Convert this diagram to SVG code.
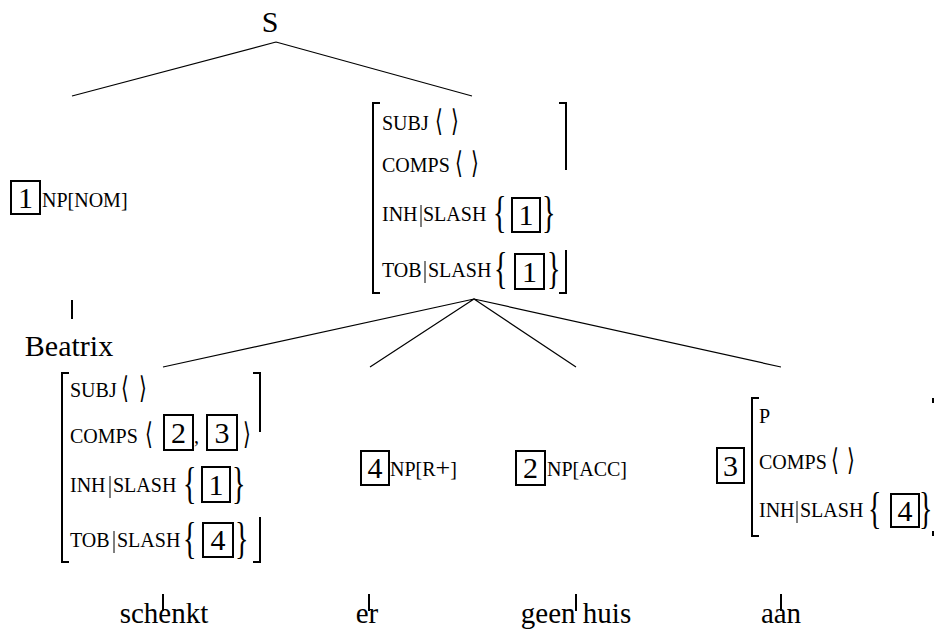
<svg xmlns="http://www.w3.org/2000/svg" width="935" height="631" viewBox="0 0 935 631" font-family="'Liberation Serif','Times New Roman',serif">
<style>
text{font-family:"Liberation Serif","Times New Roman",serif;fill:#000}
.w{font-size:29px;text-anchor:middle}
.s{font-size:30px;text-anchor:middle}
.f{font-size:20px}
.d{font-size:30px;text-anchor:middle}
.ab{font-family:"DejaVu Serif","DejaVu Sans",serif;font-size:20px}
.cb{font-size:28px}
.ln{stroke:#000;stroke-width:1.2;fill:none}
.tk{stroke:#000;stroke-width:2;fill:none}
.bx{fill:none;stroke:#000;stroke-width:2}
.br{fill:none;stroke:#000;stroke-width:2}
.bar{stroke:#000;stroke-width:1}
</style>
<rect width="935" height="631" fill="#fff"/>

<g id="connectors">
<path class="ln" d="M276,42 L72,96 M276,42 L472,96"/>
<path class="ln" d="M474,299 L163,367 M474,299 L370,367 M474,299 L576,367 M474,299 L781,367"/>
<path class="tk" d="M72,300 V319 M163,594 V611 M369,594 V611 M576,594 V611 M781,594 V611"/>
</g>

<g id="node-S">
<text class="s" x="270" y="32">S</text>
</g>

<g id="node-np-nom">
<rect class="bx" x="11" y="181" width="29" height="33"/>
<text class="d" x="25.5" y="208">1</text>
<text class="f" x="42" y="207">NP[NOM]</text>
</g>

<g id="node-beatrix">
<text class="s" x="69" y="356">Beatrix</text>
</g>

<g id="node-vp">
<path class="br" d="M380,103 H373 V293 H380"/>
<path class="br" d="M559,103 H566 V170 M566,250 V293 H559"/>
<text class="f" x="382" y="130">SUBJ</text>
<text class="ab" transform="translate(435,131) scale(1,1.5)">⟨</text><text class="ab" transform="translate(451,131) scale(1,1.5)">⟩</text>
<text class="f" x="382" y="172">COMPS</text>
<text class="ab" transform="translate(455,173) scale(1,1.5)">⟨</text><text class="ab" transform="translate(471,173) scale(1,1.5)">⟩</text>
<text class="f" x="382" y="221">INH</text>
<line class="bar" x1="421" y1="205" x2="421" y2="227"/>
<text class="f" x="423" y="221">SLASH</text>
<text class="cb" transform="translate(493,227) scale(1,1.55)">{</text>
<rect class="bx" x="512" y="198" width="28" height="34"/>
<text class="d" x="526" y="225">1</text>
<text class="cb" transform="translate(542,227) scale(1,1.55)">}</text>
<text class="f" x="382" y="277">TOB</text>
<line class="bar" x1="425" y1="261" x2="425" y2="283"/>
<text class="f" x="428" y="277">SLASH</text>
<text class="cb" transform="translate(494,283) scale(1,1.55)">{</text>
<rect class="bx" x="515" y="254" width="29" height="35"/>
<text class="d" x="529.5" y="282">1</text>
<text class="cb" transform="translate(547,283) scale(1,1.55)">}</text>
</g>

<g id="node-schenkt-avm">
<path class="br" d="M69,373 H62 V562 H69"/>
<path class="br" d="M253,373 H260 V432 M260,517 V562 H253"/>
<text class="f" x="70" y="397">SUBJ</text>
<text class="ab" transform="translate(121,398) scale(1,1.5)">⟨</text><text class="ab" transform="translate(139,398) scale(1,1.5)">⟩</text>
<text class="f" x="70" y="443">COMPS</text>
<text class="ab" transform="translate(145,444) scale(1,1.5)">⟨</text>
<rect class="bx" x="164" y="415" width="29" height="35"/>
<text class="d" x="178.5" y="443">2</text>
<text class="f" x="194" y="443">,</text>
<rect class="bx" x="207" y="415" width="30" height="35"/>
<text class="d" x="222" y="443">3</text>
<text class="ab" transform="translate(243,444) scale(1,1.5)">⟩</text>
<text class="f" x="70" y="492">INH</text>
<line class="bar" x1="110" y1="476" x2="110" y2="498"/>
<text class="f" x="113" y="492">SLASH</text>
<text class="cb" transform="translate(183,498) scale(1,1.55)">{</text>
<rect class="bx" x="202" y="467" width="28" height="35"/>
<text class="d" x="216" y="495">1</text>
<text class="cb" transform="translate(232,498) scale(1,1.55)">}</text>
<text class="f" x="70" y="547">TOB</text>
<line class="bar" x1="114" y1="531" x2="114" y2="553"/>
<text class="f" x="117" y="547">SLASH</text>
<text class="cb" transform="translate(183,553) scale(1,1.55)">{</text>
<rect class="bx" x="203" y="523" width="30" height="34"/>
<text class="d" x="218" y="550">4</text>
<text class="cb" transform="translate(235,553) scale(1,1.55)">}</text>
</g>

<g id="node-schenkt">
<text class="w" x="164" y="623">schenkt</text>
</g>

<g id="node-np-r">
<rect class="bx" x="361" y="451" width="28" height="34"/>
<text class="d" x="375" y="478">4</text>
<text class="f" x="390" y="476">NP[R<tspan font-size="26px">+</tspan>]</text>
</g>

<g id="node-er">
<text class="w" x="367" y="623">er</text>
</g>

<g id="node-np-acc">
<rect class="bx" x="516" y="451" width="29" height="34"/>
<text class="d" x="530.5" y="478">2</text>
<text class="f" x="547" y="476">NP[ACC]</text>
</g>

<g id="node-geen-huis">
<text class="w" x="576" y="623">geen huis</text>
</g>

<g id="node-pp">
<rect class="bx" x="717" y="448" width="27" height="35"/>
<text class="d" x="730.5" y="476">3</text>
<path class="br" d="M759,398 H752 V536 H759"/>
<path class="br" d="M933,398 V403 M933,531 V536"/>
<text class="f" x="759" y="423">P</text>
<text class="f" x="759" y="469">COMPS</text>
<text class="ab" transform="translate(831,470) scale(1,1.5)">⟨</text><text class="ab" transform="translate(847,470) scale(1,1.5)">⟩</text>
<text class="f" x="759" y="517">INH</text>
<line class="bar" x1="797" y1="501" x2="797" y2="523"/>
<text class="f" x="800" y="517">SLASH</text>
<text class="cb" transform="translate(868,523) scale(1,1.55)">{</text>
<rect class="bx" x="891" y="494" width="28" height="33"/>
<text class="d" x="905" y="521">4</text>
<text class="cb" transform="translate(919,523) scale(1,1.55)">}</text>
</g>

<g id="node-aan">
<text class="w" x="781" y="623">aan</text>
</g>
</svg>
